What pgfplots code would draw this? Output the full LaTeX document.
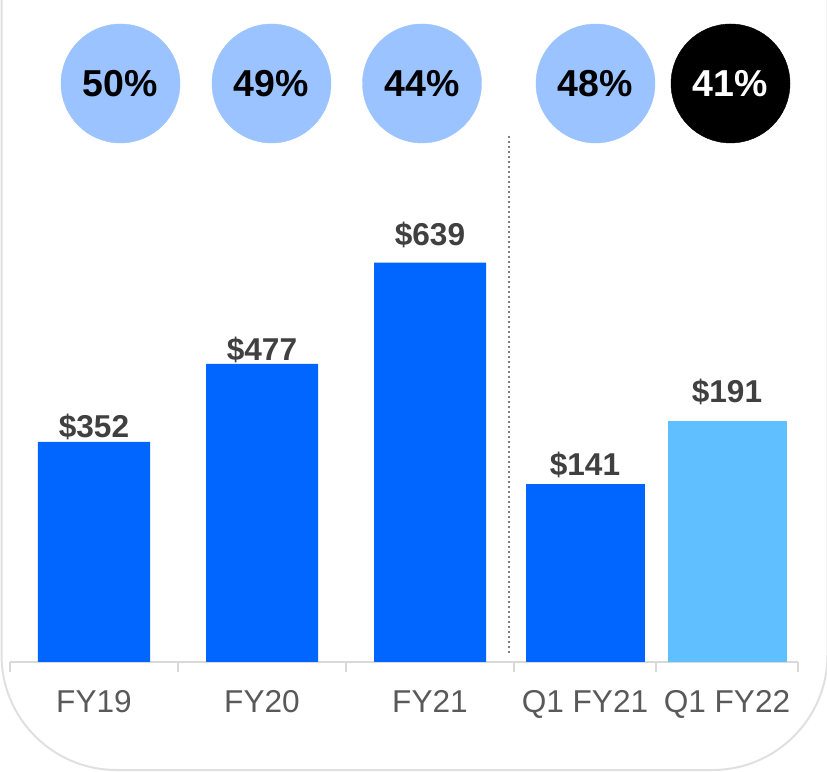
\documentclass[border=0pt]{standalone}
\usepackage{pgfplots}
\usepackage{pgfplotstable}
\pgfplotsset{compat=1.18}
\usepackage{fontspec}
\setmainfont{Liberation Sans}
\definecolor{barblue}{HTML}{0066FF}
\definecolor{barlight}{HTML}{60C0FF}
\definecolor{circblue}{HTML}{9BC3FF}
\definecolor{valgray}{HTML}{404040}
\definecolor{catgray}{HTML}{595959}
\definecolor{axgray}{HTML}{D9D9D9}
\definecolor{framegray}{HTML}{E0E0E0}
\definecolor{dotgray}{HTML}{7F7F7F}
\newcommand\catfont{\fontsize{31.6}{32}\selectfont}
\newcommand\valfont{\fontsize{31.6}{32}\selectfont\bfseries}
\newcommand\circfont{\fontsize{37.5}{38}\selectfont\bfseries}

\pgfplotstableread{
x y off
0 352 4
1 477 3
2 639 17
}\annualdata
\pgfplotstableread{
x y off
0 141 9
}\qa
\pgfplotstableread{
x y off
1 191 18
}\qb

\pgfplotsset{
  barax/.style={
    scale only axis, height=662pt, ymin=0,
    anchor=south west,
    axis x line=bottom, axis y line=none,
    axis line style={-, draw=axgray, line width=2.5pt},
    major tick length=0pt,
    minor tick length=10pt,
    tick align=outside,
    minor tick style={draw=axgray, line width=2pt},
    xticklabel style={font=\catfont, text=catgray, anchor=base, yshift=-50pt},
    ybar,
    clip=false,
    /pgf/number format/assume math mode=true,
  },
  valbars/.style={
    draw=none, bar shift=0pt,
    visualization depends on={\thisrow{off}\as\off},
    nodes near coords={\$\pgfmathprintnumber{\pgfplotspointmeta}},
    every node near coord/.append style={anchor=base, yshift=\off pt, font=\valfont, text=valgray},
  },
}

\begin{document}
\begin{tikzpicture}
\useasboundingbox (0,0) rectangle (827pt,771pt);
% frame
\draw[framegray, line width=2pt, rounded corners=115pt] (827.5pt,950pt) -- (827.5pt,1pt) -- (1.5pt,1pt) -- (1.5pt,950pt);
% divider
\draw[dotgray, line width=2.6pt, dash pattern=on 2.4pt off 2.6pt] (509pt,635pt) -- (509pt,116pt);

\begin{axis}[barax, at={(10pt,109pt)}, width=504pt,
  xmin=-0.5, xmax=2.5, ymax=1059.2,
  xtick={0,1,2}, xticklabels={FY19,FY20,FY21},
  minor xtick={-0.5,0.5,1.5,2.5}, bar width=112pt]
\addplot[valbars, fill=barblue] table[x=x,y=y] {\annualdata};
\end{axis}

\begin{axis}[barax, at={(514pt,109pt)}, width=284pt,
  xmin=-0.5, xmax=1.5, ymax=524.6,
  xtick={0,1}, xticklabels={Q1 FY21,Q1 FY22},
  minor xtick={-0.5,0.5,1.5}, bar width=119pt]
\addplot[valbars, fill=barblue] table[x=x,y=y] {\qa};
\addplot[valbars, fill=barlight] table[x=x,y=y] {\qb};
\end{axis}

\begin{axis}[scale only axis, at={(0pt,0pt)}, anchor=south west,
  width=827pt, height=771pt, xmin=0, xmax=827, ymin=0, ymax=771,
  hide axis, clip=false]
\addplot[circblue, only marks, mark=*, mark size=59.5pt,
  point meta=explicit symbolic, nodes near coords,
  every node near coord/.append style={anchor=center, font=\circfont, text=black}]
  coordinates {(120.5,687.5)[50\%] (271.5,687.5)[49\%] (422,687.5)[44\%] (595.5,687.5)[48\%]};
\addplot[black, only marks, mark=*, mark size=59.5pt,
  point meta=explicit symbolic, nodes near coords,
  every node near coord/.append style={anchor=center, font=\circfont, text=white}]
  coordinates {(730.5,687.5)[41\%]};
\end{axis}
\end{tikzpicture}
\end{document}
